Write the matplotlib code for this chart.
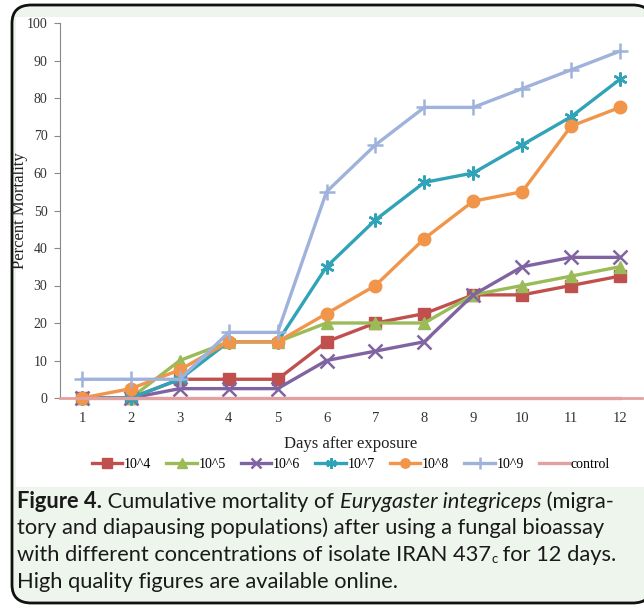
import numpy as np
import matplotlib.pyplot as plt
from matplotlib.patches import FancyBboxPatch, Rectangle

# data
days = np.arange(1, 13)
labels = ['10^4', '10^5', '10^6', '10^7', '10^8', '10^9', 'control']
m_1e4 = [0, 0, 5, 5, 5, 15, 20, 22.5, 27.5, 27.5, 30, 32.5]
m_1e5 = [0, 0, 10, 15, 15, 20, 20, 20, 27.5, 30, 32.5, 35]
m_1e6 = [0, 0, 2.5, 2.5, 2.5, 10, 12.5, 15, 27.5, 35, 37.5, 37.5]
m_1e7 = [0, 0, 5, 15, 15, 35, 47.5, 57.5, 60, 67.5, 75, 85]
m_1e8 = [0, 2.5, 7.5, 15, 15, 22.5, 30, 42.5, 52.5, 55, 72.5, 77.5]
m_1e9 = [5, 5, 5, 17.5, 17.5, 55, 67.5, 77.5, 77.5, 82.5, 87.5, 92.5]
m_ctrl = [0] * 12

series = [m_1e4, m_1e5, m_1e6, m_1e7, m_1e8, m_1e9, m_ctrl]
colors = ['#c0504d', '#9bbb59', '#8064a2', '#31a3b8', '#f0954a', '#9fb2dc', '#e3a0a0']
markers = ['s', '^', 'x', (6, 2, 0), 'o', '+', None]
msizes = [9, 9, 10, 10, 9, 11, 0]

W, H = 644, 608
fig = plt.figure(figsize=(W / 100, H / 100), dpi=100)

# page frame + caption background
frame = FancyBboxPatch((12 / W, 5 / H), 640 / W, 598 / H,
                       boxstyle='round,pad=0,rounding_size=0.03',
                       transform=fig.transFigure, facecolor='#edf5ec',
                       edgecolor='#111111', linewidth=2, zorder=-2)
fig.patches.append(frame)
fig.patches.append(Rectangle((16 / W, (H - 487) / H), (W - 16) / W, 470 / H,
                             transform=fig.transFigure, facecolor='white',
                             edgecolor='none', zorder=-1))

ax = fig.add_axes([60 / W, (H - 398) / H, 582 / W, 375 / H])
ax.set_facecolor('none')

serif = 'Liberation Serif'
for vals, lab, c, mk, ms in zip(series, labels, colors, markers, msizes):
    thin = mk in ('x', '+') or isinstance(mk, tuple)
    ax.plot(days, vals, color=c, lw=2.4, marker=mk, ms=ms, mew=1.8 if thin else 1,
            label=lab, clip_on=False)

ax.set_xlim(0.55, 12.45)
ax.set_ylim(0, 100)
ax.set_yticks(np.arange(0, 101, 10))
ax.set_xticks(days)
for s in ['top', 'right']:
    ax.spines[s].set_visible(False)
ax.spines['left'].set_color('#888888')
ax.spines['bottom'].set_color('#e3a0a0')
ax.spines['bottom'].set_linewidth(2)
ax.tick_params(axis='y', length=4, color='#888888', labelsize=10, pad=5)
ax.tick_params(axis='x', length=0, labelsize=10.5, pad=10)
for t in ax.get_xticklabels() + ax.get_yticklabels():
    t.set_family(serif)
    t.set_color('#333333')

ax.set_xlabel('Days after exposure', family=serif, fontsize=12, color='#222222', labelpad=8)
ax.set_ylabel('Percent Mortality', family=serif, fontsize=12, color='#222222')
ax.yaxis.set_label_coords(-32 / 582, 0.5)

ax.legend(loc='center', bbox_to_anchor=(0.5, -66 / 375), ncol=7,
          frameon=False, prop={'family': serif, 'size': 10}, handlelength=2.2,
          handletextpad=0.1, columnspacing=1.1, markerscale=0.75)

# caption, pieces laid out one after another
cap = {'family': 'Lato', 'fontsize': 15.75, 'color': '#1a1a1a'}
renderer = fig.canvas.get_renderer()


def write_line(parts, y):
    x = 17 / W
    for s, kw in parts:
        kw = dict(kw)
        dy = kw.pop('dy', 0)
        opts = dict(cap)
        opts.update(kw)
        t = fig.text(x, y + dy / H, s, va='baseline', **opts)
        x += t.get_window_extent(renderer).width / W


base = (H - 508) / H
step = 26.5 / H
write_line([('Figure 4.', {'fontweight': 'bold'}),
            (' Cumulative mortality of ', {}),
            ('Eurygaster integriceps', {'style': 'italic'}),
            (' (migra-', {})], base)
write_line([('tory and diapausing populations) after using a fungal bioassay', {})], base - step)
write_line([('with different concentrations of isolate IRAN 437', {}),
            ('c', {'fontsize': 9.5, 'dy': -2}),
            (' for 12 days.', {})], base - 2 * step)
write_line([('High quality figures are available online.', {})], base - 3 * step)

plt.savefig('out.png', dpi=100)
